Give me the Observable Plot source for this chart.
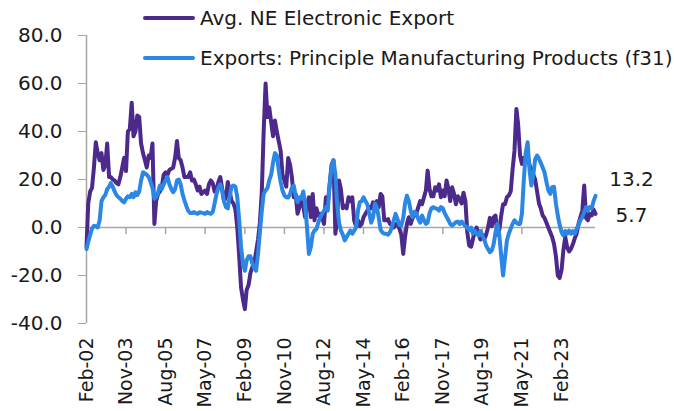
<!DOCTYPE html>
<html><head><meta charset="utf-8">
<script src="https://cdn.jsdelivr.net/npm/d3@7"></script>
<script src="https://cdn.jsdelivr.net/npm/@observablehq/plot@0.6"></script>
<style>
body{margin:0;background:#fff;}
#wrap{position:relative;width:674px;height:411px;font-family:"DejaVu Sans", sans-serif;color:#1a1a1a;}
.leg{position:absolute;left:143px;height:24px;display:flex;align-items:center;font-size:20px;white-space:nowrap;}
.sw{width:52px;height:4px;margin-right:5px;border-radius:2px;}
</style></head><body><div id="wrap"></div>
<script>
const seriesNames = ["Avg. NE Electronic Export", "Exports: Principle Manufacturing Products (f31)"];
const seriesColors = ["#4b2a8c", "#2b87e3"];
const startYear = 2002, startMonthIndex = 1; // Feb 2002, monthly
const neElectronic = [
-8.2,10,15,16.5,25,35.5,31,28,31,24,
26,35,21,21,20,19.6,18.5,18,21,25,
29,23.5,40,41,52,38,40,46.7,46,35,
31,28,25,30,29,35,1.5,11,14,15,
17,22,23,22,24,24.5,25,29,36,29,
28,25,21,21,21,23,19.6,20,18,15.4,
17,14,14.7,15.4,14,18,19.6,18.5,15,16,
19,21,16,11,12.5,19,15,11,10,7.5,
0,-12,-25,-30,-34,-26,-24,-19,-16.5,-15,
-10,-5,2,15,40,60,46,50,44,38,
44.6,40,36,32,22,19.6,17,29,26,21,
12.6,14,5.7,8.5,12.6,9,4.3,9,12.6,4.3,
14,3,8,5,5.7,4.3,1.5,12.6,10,18,
26,28,-2.6,4,19.6,16,8,9,8,12.6,
11,12.6,3,0.5,3,0.5,1.5,4.3,5.7,7,
8.5,8,10.5,9.7,11,8.5,14,13,3,3,
3.5,1.5,1,0,1.5,1,-0.5,-3,-11,-4,
1.5,4.3,1.5,4,5,6,8.5,11,9.7,12.6,
15.4,23.7,16,13,13,16.8,15.4,18,12.6,15.4,
13,19.6,16,11,16.8,14,9.7,13,12,10,
14.5,11,-2,-7.5,-8,-5,-1.5,0,-2.6,-5,
-3,-5,-3,0,4,0.5,4.3,5,-3,-1,
5,9.7,9.7,12.6,13.3,15,24,32,49.4,43,
30,26.5,29,28,30,26,24,22,20,15,
10,8,5,4,2,0,-2,-4,-6.8,-12,
-20,-21,-17.5,-9.6,-4,-8.2,-10,-9,-7,-4.5,
-2.6,1.5,4.3,7,17.5,4,3,5.7,5,7.5,
5.7];
const manufacturing = [
-9,-6,-3,-0.5,0.7,0.5,0,3,11,12.6,
13.5,16,17,18.5,17,15,13.5,12.6,12,11,
10.5,12,13,12.6,14,12.6,14.7,13.5,15,19.6,
23,22.5,22,21,19,16.5,12,12.6,14.5,17.5,
16,18,19.6,21,18,16,14.7,16,19.6,20,
18,14,11.3,9,7,6,6,6.4,6,5.7,
6.4,6.2,6,5.7,6.4,6,5.7,6.5,10,14,
16.5,18,15.4,11,8.5,8,13,17,17.5,17,
12.6,3,-8,-15,-18,-13.7,-12,-12,-15,-17,
-18,-11,-2,7,14,15.5,16.5,19.6,22,27,
31,30,24,19,15.4,13.3,12.6,12.5,14,16.5,
17.5,13.3,10.5,12.6,12,15,10,0,-11,-8.2,
-2.6,-1.3,-0.6,2,4.3,5.7,7,8.5,7,18,
25,28,22,10,2,-1.3,-3,-5.4,-4,-2.6,
-1.3,-2.6,-1.3,0,7,10.5,11,12.6,11,9.7,
6,2,4,10,8.5,4.3,-1,-2,-2.6,-2.6,
-3,-2,0,3,5.7,3.5,1,0.8,4,10,
13.3,11,7,4.3,6.5,6,3.5,2,5,3,
1.5,2,6,8,8.5,8,7.8,7,8.5,8,
6,4.5,3,1.5,0.8,1.5,2.2,2.5,1.5,2.5,
1.5,0.5,0,-1,0,-2.6,-1.3,-2.6,-3.3,-1.5,
-3.5,-5,-7.5,-9,-10.3,-9.6,-6.8,-2,1.5,-3,
-12,-20,-12.6,-5.4,-2.6,-0.5,1.5,3,2,1.5,
1.5,5.7,20,31,35.5,24,17.5,22,28.5,30,
28.6,27,25,23,19,15.5,14,16.8,17,10,
5,1,-2,-3.3,-1.5,-2.6,-1.3,-2.6,-1.5,-2.6,
-0.5,1,3,4.3,6.5,8.5,7,8.5,8,11,
13.2];
const xTickLabels = ["Feb-02","Nov-03","Aug-05","May-07","Feb-09","Nov-10","Aug-12","May-14","Feb-16","Nov-17","Aug-19","May-21","Feb-23"];
const yTicks = [-40, -20, 0, 20, 40, 60, 80];

const dates = neElectronic.map((_, i) => new Date(Date.UTC(startYear, startMonthIndex + i, 1)));
const parseTick = d3.utcParse("%b-%y");
const tickDates = xTickLabels.map(parseTick);
const rowsA = neElectronic.map((v, i) => ({date: dates[i], value: v}));
const rowsB = manufacturing.map((v, i) => ({date: dates[i], value: v}));
const lastA = rowsA[rowsA.length - 1], lastB = rowsB[rowsB.length - 1];
const gray = "#a6a6a6";
const font = "'DejaVu Sans', sans-serif";

const chart = Plot.plot({
  width: 674, height: 411,
  marginLeft: 86, marginRight: 79, marginTop: 35, marginBottom: 88,
  style: {fontFamily: font, fontSize: "20px", color: "#1a1a1a", background: "#fff"},
  x: {type: "utc", domain: [dates[0], dates[dates.length - 1]]},
  y: {domain: [-40, 80]},
  marks: [
    Plot.ruleX([dates[0]], {stroke: gray, strokeWidth: 1.5}),
    Plot.ruleY([0], {stroke: gray, strokeWidth: 1.5}),
    Plot.ruleX(tickDates, {x: d => d, y1: 0, y2: 0, insetBottom: -7, stroke: gray, strokeWidth: 1.5}),
    Plot.axisY({ticks: yTicks, tickSize: 8, tickPadding: 16, tickFormat: d => d.toFixed(1), stroke: gray, fill: "#1a1a1a", fontSize: 20, label: null}),
    Plot.axisX({ticks: tickDates, tickSize: 0, tickPadding: 14, tickRotate: -90, tickFormat: d3.utcFormat("%b-%y"), fill: "#1a1a1a", fontSize: 19, label: null}),
    Plot.line(rowsA, {x: "date", y: "value", stroke: seriesColors[0], strokeWidth: 4, strokeLinejoin: "round"}),
    Plot.line(rowsB, {x: "date", y: "value", stroke: seriesColors[1], strokeWidth: 4, strokeLinejoin: "round"}),
    Plot.text([lastB], {x: "date", y: "value", text: d => d.value.toFixed(1), dx: 36, dy: -16, fontSize: 20, fill: "#1a1a1a"}),
    Plot.text([lastA], {x: "date", y: "value", text: d => d.value.toFixed(1), dx: 36, dy: 2, fontSize: 20, fill: "#1a1a1a"})
  ]
});
const wrap = document.getElementById("wrap");
wrap.appendChild(chart);
seriesNames.forEach((name, i) => {
  const row = document.createElement("div");
  row.className = "leg";
  row.style.top = (6 + i * 40) + "px";
  const sw = document.createElement("span");
  sw.className = "sw";
  sw.style.background = seriesColors[i];
  const t = document.createElement("span");
  t.textContent = name;
  row.appendChild(sw); row.appendChild(t);
  wrap.appendChild(row);
});
</script></body></html>
